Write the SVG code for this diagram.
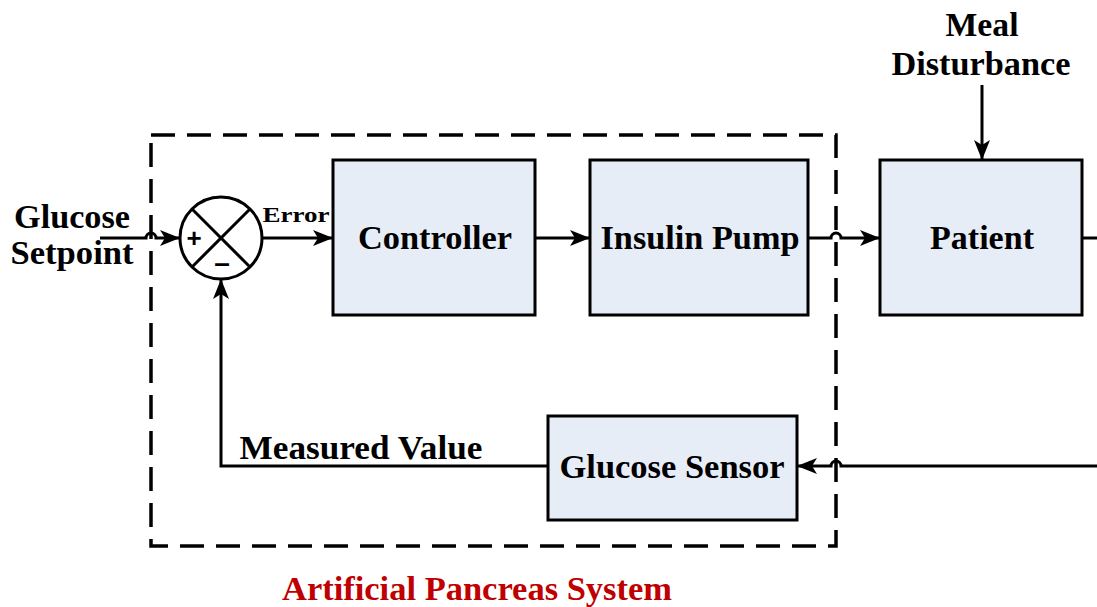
<svg xmlns="http://www.w3.org/2000/svg" width="1097" height="607" viewBox="0 0 1097 607">
<style>
.box{fill:#E6EDF7;stroke:#000;stroke-width:3}
.ln{fill:none;stroke:#000;stroke-width:3}
.t{font-family:"Liberation Serif",serif;font-weight:bold;fill:#000;text-anchor:middle}
.s{font-family:"Liberation Sans",sans-serif;font-weight:bold;fill:#000;text-anchor:middle}
</style>
<defs>
<marker id="ah2" viewBox="0 0 20 16" refX="20" refY="8" markerWidth="20" markerHeight="16" markerUnits="userSpaceOnUse" orient="auto">
<path d="M0,0 L20,8 L0,16 L5,8 z" fill="#000"/>
</marker>
</defs>
<rect width="1097" height="607" fill="#fff"/>
<g id="system-boundary">
<rect x="151" y="135" width="685" height="411" fill="none" stroke="#000" stroke-width="3.5" stroke-dasharray="24,12"/>
<text class="t" x="477" y="600" font-size="33" style="fill:#C00000" textLength="390" lengthAdjust="spacingAndGlyphs">Artificial Pancreas System</text>
</g>
<g id="sum">
<circle cx="221" cy="238" r="41" fill="#fff" stroke="#000" stroke-width="3"/>
<line class="ln" x1="192" y1="209" x2="250" y2="267"/>
<line class="ln" x1="250" y1="209" x2="192" y2="267"/>
<text class="s" x="194" y="247" font-size="26">+</text>
<text class="s" x="222" y="272" font-size="28">–</text>
</g>
<g id="controller"><rect class="box" x="333" y="160" width="202" height="155"/><text class="t" x="435" y="249" font-size="33" textLength="154" lengthAdjust="spacingAndGlyphs">Controller</text></g>
<g id="insulin-pump"><rect class="box" x="590" y="160" width="218" height="155"/><text class="t" x="700" y="249" font-size="33" textLength="199" lengthAdjust="spacingAndGlyphs">Insulin Pump</text></g>
<g id="patient"><rect class="box" x="880" y="160" width="202" height="155"/><text class="t" x="982" y="249" font-size="33" textLength="104" lengthAdjust="spacingAndGlyphs">Patient</text></g>
<g id="glucose-sensor"><rect class="box" x="548" y="416" width="249" height="104"/><text class="t" x="672" y="478" font-size="33" textLength="225" lengthAdjust="spacingAndGlyphs">Glucose Sensor</text></g>
<g id="labels">
<text class="t" x="72" y="228" font-size="33" textLength="116" lengthAdjust="spacingAndGlyphs">Glucose</text>
<text class="t" x="72" y="264" font-size="33" textLength="123" lengthAdjust="spacingAndGlyphs">Setpoint</text>
<text class="t" x="296" y="222" font-size="20" textLength="67" lengthAdjust="spacingAndGlyphs">Error</text>
<text class="t" x="361" y="459" font-size="33" textLength="243" lengthAdjust="spacingAndGlyphs">Measured Value</text>
<text class="t" x="982" y="36" font-size="33" textLength="73" lengthAdjust="spacingAndGlyphs">Meal</text>
<text class="t" x="981" y="75" font-size="33" textLength="179" lengthAdjust="spacingAndGlyphs">Disturbance</text>
</g>
<g id="connectors">
<path class="ln" d="M100,238 H146 A5,5 0 0 1 156,238 H180" marker-end="url(#ah2)"/>
<line class="ln" x1="262" y1="238" x2="333" y2="238" marker-end="url(#ah2)"/>
<line class="ln" x1="535" y1="238" x2="590" y2="238" marker-end="url(#ah2)"/>
<path class="ln" d="M808,238 H831 A5,5 0 0 1 841,238 H880" marker-end="url(#ah2)"/>
<line class="ln" x1="1082" y1="238" x2="1097" y2="238"/>
<line class="ln" x1="982" y1="85" x2="982" y2="160" marker-end="url(#ah2)"/>
<path class="ln" d="M1097,466 H841 A5,5 0 0 0 831,466 H797" marker-end="url(#ah2)"/>
<path class="ln" d="M548,466 H221 V279" marker-end="url(#ah2)"/>
</g>
</svg>
